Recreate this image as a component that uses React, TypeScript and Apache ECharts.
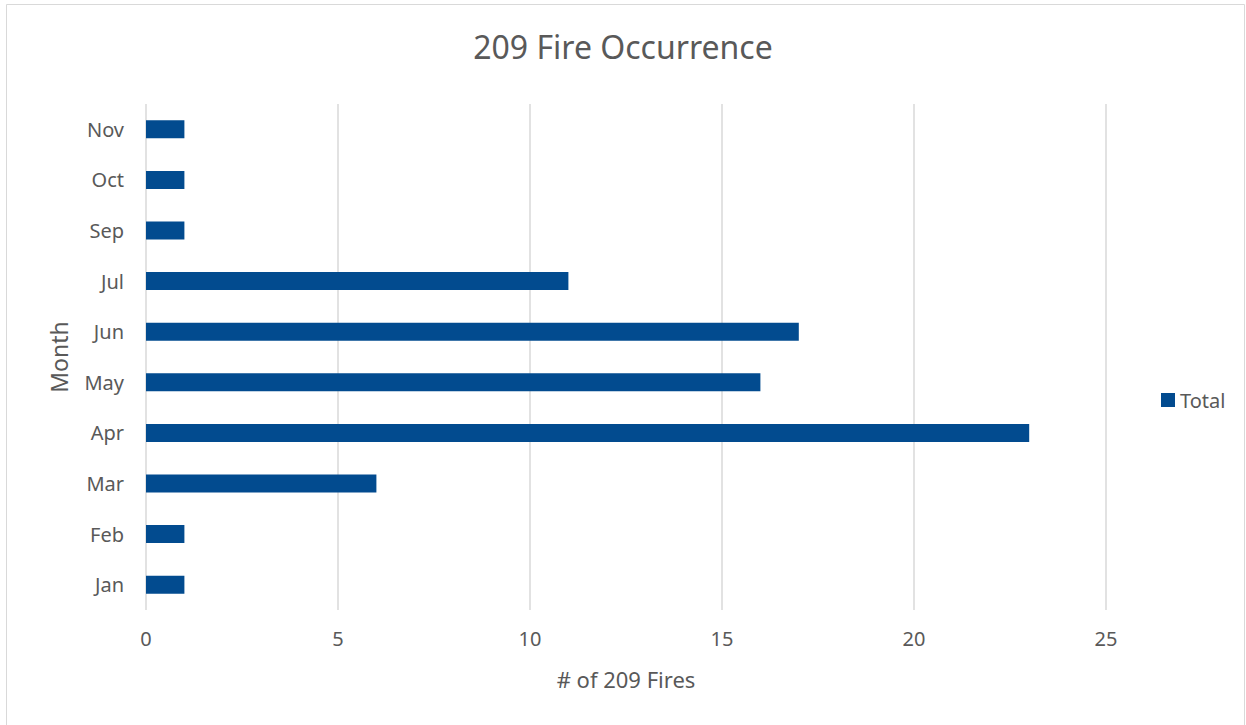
import React, { useEffect, useRef } from "react";
import * as echarts from "echarts";

const months = ["Jan", "Feb", "Mar", "Apr", "May", "Jun", "Jul", "Sep", "Oct", "Nov"];
const totals = [1, 1, 6, 23, 16, 17, 11, 1, 1, 1];
const seriesName = "Total";
const xTicks = [0, 5, 10, 15, 20, 25];

const FONT = "'Noto Sans', 'Open Sans', sans-serif";
const TEXT = "#595959";

export default function App() {
  const ref = useRef<HTMLDivElement>(null);
  useEffect(() => {
    if (!ref.current) return;
    const chart = echarts.init(ref.current, undefined, { renderer: "svg" });
    chart.setOption({
      animation: false,
      backgroundColor: "#ffffff",
      textStyle: { fontFamily: FONT },
      title: {
        text: "209 Fire Occurrence",
        left: "center",
        top: 25,
        textStyle: { fontFamily: FONT, fontSize: 32, fontWeight: "normal", color: TEXT },
      },
      graphic: [
        {
          type: "rect",
          shape: { x: 6.5, y: 4.5, width: 1238, height: 760 },
          style: { fill: "none", stroke: "#d9d9d9", lineWidth: 1 },
          silent: true,
        },
      ],
      legend: {
        data: [seriesName],
        left: 1161,
        top: 390,
        padding: 0,
        orient: "vertical",
        itemWidth: 14,
        itemHeight: 14,
        itemGap: 6,
        icon: "rect",
        textStyle: { fontFamily: FONT, fontSize: 20, color: TEXT, padding: [0, 0, 0, 0] },
      },
      grid: { left: 146, right: 140, top: 104, bottom: 115, containLabel: false },
      xAxis: {
        type: "value",
        min: xTicks[0],
        max: xTicks[xTicks.length - 1],
        interval: 5,
        name: "# of 209 Fires",
        nameLocation: "middle",
        nameGap: 58,
        nameTextStyle: { fontFamily: FONT, fontSize: 22, color: TEXT },
        axisLine: { show: false },
        axisTick: { show: false },
        axisLabel: { fontFamily: FONT, fontSize: 20, color: TEXT, margin: 18 },
        splitLine: { show: true, lineStyle: { color: "#d9d9d9", width: 1.5 } },
      },
      yAxis: {
        type: "category",
        data: months,
        name: "Month",
        nameLocation: "middle",
        nameGap: 76,
        nameRotate: 90,
        nameTextStyle: { fontFamily: FONT, fontSize: 23, color: TEXT },
        axisLine: { show: false },
        axisTick: { show: false },
        axisLabel: { fontFamily: FONT, fontSize: 20, color: TEXT, margin: 22 },
        splitLine: { show: false },
      },
      series: [
        {
          name: seriesName,
          type: "bar",
          data: totals,
          barWidth: 18,
          itemStyle: { color: "#024B8F" },
        },
      ],
    });
    return () => chart.dispose();
  }, []);
  return (
    <div
      ref={ref}
      style={{ position: "fixed", left: 0, top: 0, width: 1246, height: 725 }}
    />
  );
}
